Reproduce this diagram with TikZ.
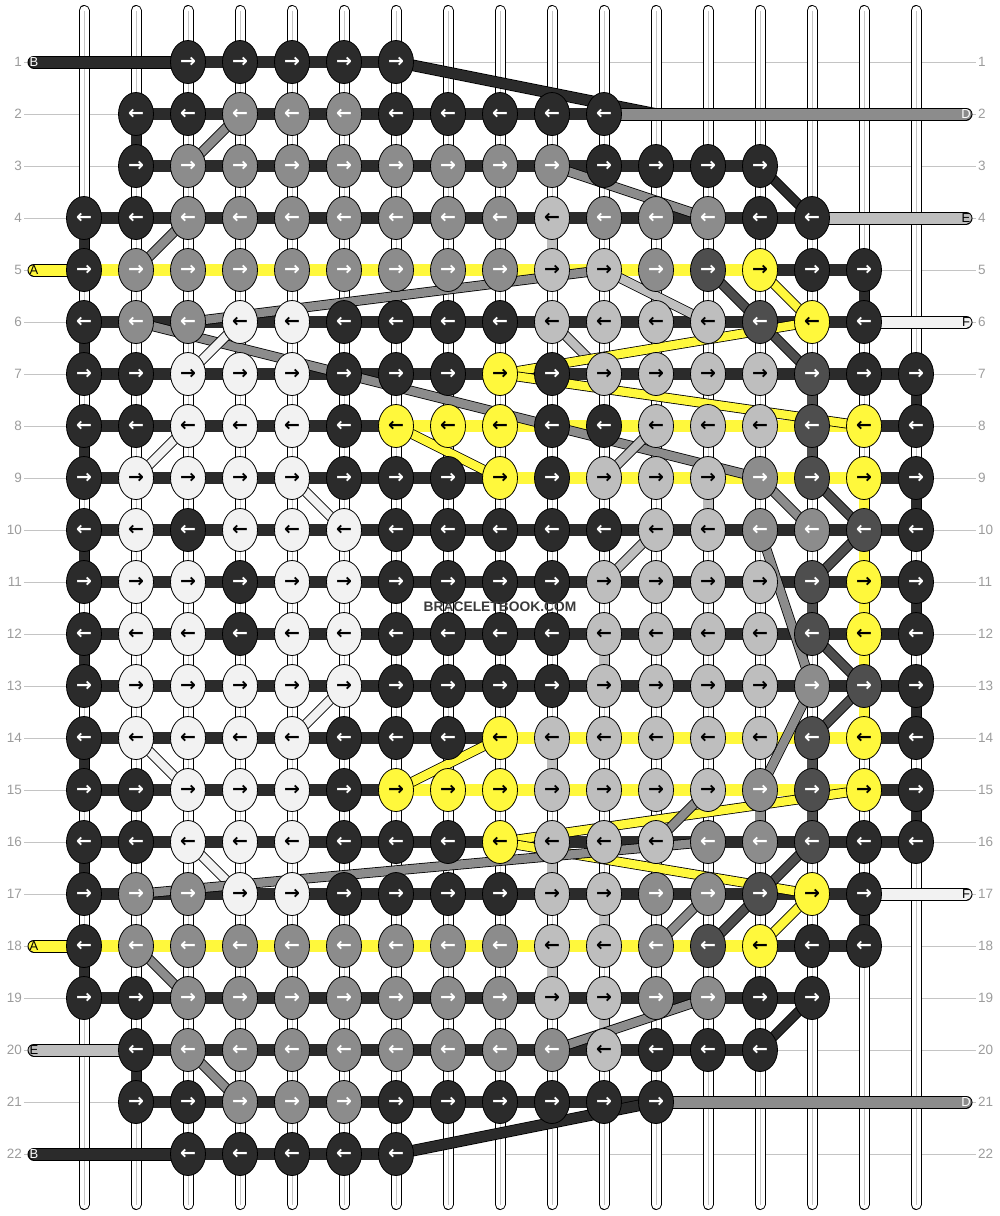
\documentclass[tikz,border=0pt]{standalone}
\usepackage{fontspec}
\setmainfont{Liberation Sans}
\newfontfamily\arrowfont{DejaVu Sans}
\usetikzlibrary{shapes.geometric}

\definecolor{cK}{HTML}{2B2B2B}
\definecolor{cG}{HTML}{8C8C8C}
\definecolor{cS}{HTML}{BEBEBE}
\definecolor{cW}{HTML}{F2F2F2}
\definecolor{cY}{HTML}{FFF83C}
\definecolor{cD}{HTML}{4E4E4E}
\definecolor{gridgray}{HTML}{C4C4C4}
\definecolor{numgray}{HTML}{9C9C9C}
\definecolor{markgray}{HTML}{3A3A3A}

\tikzset{
    knot/.style={ellipse, draw=black, line width=0.8pt, minimum width=35pt,
        minimum height=43pt, inner sep=0pt,
        font=\arrowfont\bfseries\fontsize{19}{19}\selectfont}
}
\tikzset{
    knotK/.style={fill=cK, text=white},
    knotG/.style={fill=cG, text=white},
    knotD/.style={fill=cD, text=white},
    knotS/.style={fill=cS, text=black},
    knotW/.style={fill=cW, text=black},
    knotY/.style={fill=cY, text=black}
}
\tikzset{
    seg/.style={line width=12pt},
    vseg/.style={line width=10pt},
    diag/.style={draw=black, line width=0.8pt, double=#1, double distance=8.4pt},
    endline/.style={draw=black, line width=1pt, double=#1, double distance=11pt,
        line cap=round},
    endlabel/.style={inner sep=0pt, font=\fontsize{13}{13}\selectfont},
    rownum/.style={inner sep=2pt, text=numgray, font=\fontsize{13.5}{14}\selectfont}
}
\pgfdeclarelayer{grid}
\pgfdeclarelayer{strands}
\pgfdeclarelayer{diags}
\pgfsetlayers{grid,strands,diags,main}

% row / first column / knot colours / yellow from / yellow to
\def\rowdata{
    1/3/{K,K,K,K,K}/0/0,
    2/2/{K,K,G,G,G,K,K,K,K,K}/0/0,
    3/2/{K,G,G,G,G,G,G,G,G,K,K,K,K}/0/0,
    4/1/{K,K,G,G,G,G,G,G,G,S,G,G,G,K,K}/0/0,
    5/1/{K,G,G,G,G,G,G,G,G,S,S,G,D,Y,K,K}/1/14,
    6/1/{K,G,G,W,W,K,K,K,K,S,S,S,S,D,Y,K}/0/0,
    7/1/{K,K,W,W,W,K,K,K,Y,K,S,S,S,S,D,K,K}/0/0,
    8/1/{K,K,W,W,W,K,Y,Y,Y,K,K,S,S,S,D,Y,K}/7/16,
    9/1/{K,W,W,W,W,K,K,K,Y,K,S,S,S,G,D,Y,K}/9/16,
    10/1/{K,W,K,W,W,W,K,K,K,K,K,S,S,G,G,D,K}/0/0,
    11/1/{K,W,W,K,W,W,K,K,K,K,S,S,S,S,D,Y,K}/0/0,
    12/1/{K,W,W,K,W,W,K,K,K,K,S,S,S,S,D,Y,K}/0/0,
    13/1/{K,W,W,W,W,W,K,K,K,K,S,S,S,S,G,D,K}/0/0,
    14/1/{K,W,W,W,W,K,K,K,Y,S,S,S,S,S,D,Y,K}/9/16,
    15/1/{K,K,W,W,W,K,Y,Y,Y,S,S,S,S,G,D,Y,K}/7/16,
    16/1/{K,K,W,W,W,K,K,K,Y,S,S,S,G,G,D,K,K}/0/0,
    17/1/{K,G,G,W,W,K,K,K,K,S,S,G,G,D,Y,K}/0/0,
    18/1/{K,G,G,G,G,G,G,G,G,S,S,G,D,Y,K,K}/1/14,
    19/1/{K,K,G,G,G,G,G,G,G,S,S,G,G,K,K}/0/0,
    20/2/{K,G,G,G,G,G,G,G,G,S,K,K,K}/0/0,
    21/2/{K,K,G,G,G,K,K,K,K,K,K}/0/0,
    22/3/{K,K,K,K,K}/0/0}

\begin{document}
\begin{tikzpicture}[x=1pt, y=-1pt]
  \useasboundingbox (0,0) rectangle (1000,1216);

  % row numbers
  \foreach \r in {1,...,22} {
    \node[rownum, anchor=east] (rl-\r) at (24, {62+52*(\r-1)}) {\r};
    \node[rownum, anchor=west] (rr-\r) at (976, {62+52*(\r-1)}) {\r};
  }

  % knots
  \foreach \r/\s/\ks/\ya/\yb in \rowdata {
    \foreach \k [count=\i] in \ks {
      \pgfmathtruncatemacro\c{\s+\i-1}
      \node[knot, knot\k] (n-\r-\c) at ({84+52*(\c-1)}, {62+52*(\r-1)})
        {\ifodd\r\relax →\else ←\fi};
    }
  }

  % guide lines and vertical strings
  \begin{pgfonlayer}{grid}
    \foreach \r in {1,...,22}
      \draw[gridgray, line width=1pt] (rl-\r.east) -- (rr-\r.west);
    \foreach \c in {1,...,17} {
      \coordinate (top-\c) at ({84+52*(\c-1)}, 10.5);
      \coordinate (bot-\c) at ({84+52*(\c-1)}, 1204.5);
      \draw[line width=1pt, double=white, double distance=9pt, line cap=round]
        (top-\c) -- (bot-\c);
      \draw[gridgray, line width=0.8pt] (top-\c) -- (bot-\c);
    }
  \end{pgfonlayer}

  % strands along the rows, turns and vertical runs
  \begin{pgfonlayer}{strands}
    \foreach \r/\s/\ks/\ya/\yb in \rowdata {
      \foreach \k [count=\i] in \ks {
        \ifnum\i>1
          \pgfmathtruncatemacro\c{\s+\i-1}
          \pgfmathtruncatemacro\p{\c-1}
          \ifnum\p<\ya \def\segc{cK}\else
            \ifnum\c>\yb \def\segc{cK}\else \def\segc{cY}\fi\fi
          \draw[seg, draw=\segc] (n-\r-\p.center) -- (n-\r-\c.center);
        \fi
      }
    }
    \foreach \c/\r/\k in {1/4/K, 1/6/K, 1/8/K, 1/10/K, 1/12/K, 1/14/K, 1/16/K,
        1/18/K, 2/2/K, 2/20/K, 17/7/K, 17/9/K, 17/11/K, 17/13/K, 17/15/K,
        16/5/K, 16/17/K, 15/7/D, 15/8/D, 15/11/D, 15/14/D, 15/15/D,
        16/9/Y, 16/10/Y, 16/11/Y, 16/12/Y, 16/13/Y, 10/4/S, 13/9/S,
        11/12/S, 10/14/S, 14/15/G, 10/16/S, 11/17/S, 10/18/S, 11/19/S} {
      \pgfmathtruncatemacro\rn{\r+1}
      \draw[vseg, draw=c\k] (n-\r-\c.center) -- (n-\rn-\c.center);
    }
  \end{pgfonlayer}

  % strands that change rows
  \coordinate (bturn) at (656, 114);
  \begin{pgfonlayer}{diags}
    \draw[diag=cK, double distance=10pt] (n-1-7.center) -- (bturn);
    \foreach \k/\a/\b in {G/3-3/2-4, K/3-14/4-15, G/3-10/4-13, G/5-2/4-3,
        Y/5-14/6-15, S/5-11/6-13, G/6-3/5-11, G/6-2/9-14, D/5-13/6-14,
        D/6-14/7-15, W/7-3/6-4, S/6-10/7-11, Y/7-9/6-15, Y/7-9/8-16,
        Y/8-7/9-9, W/9-2/8-3, S/9-11/8-12, W/9-5/10-6, G/9-14/10-15,
        D/9-15/10-16, D/10-16/11-15, G/10-14/13-15, G/13-15/15-14,
        D/12-15/13-16, D/13-16/14-15, S/11-11/10-12, W/14-2/15-3,
        W/14-5/13-6, W/16-3/17-4, Y/15-7/14-9, Y/16-9/15-16, Y/16-9/17-15,
        G/17-2/16-13, G/16-12/15-13, D/16-15/17-14, D/17-14/18-13,
        Y/17-15/18-14, G/18-12/17-13, G/18-2/19-3, K/19-15/20-14,
        G/20-10/19-13, G/20-3/21-4}
      \draw[diag=c\k] (n-\a.center) -- (n-\b.center);
    \draw[diag=cK, double distance=10pt] (n-22-7.center) -- (n-21-12.center);

    % loose ends with their letters
    \foreach \l/\r/\x/\col/\kc/\tc in {B/1/34/cK/3/white, D/2/966/cG/11/white,
        E/4/966/cS/15/black, A/5/34/cY/1/black, F/6/966/cW/16/black,
        F/17/966/cW/16/black, A/18/34/cY/1/black, E/20/34/cS/2/black,
        D/21/966/cG/12/white, B/22/34/cK/3/white} {
      \coordinate (end-\r) at (\x, {62+52*(\r-1)});
      \draw[endline=\col] (end-\r) -- (n-\r-\kc.center);
      \node[endlabel, text=\tc] (lbl-\r) at (end-\r) {\l};
    }
  \end{pgfonlayer}

  \node[text=markgray, font=\bfseries\fontsize{13.8}{14}\selectfont] (mark)
    at (500, 607) {BRACELETBOOK.COM};
\end{tikzpicture}
\end{document}
